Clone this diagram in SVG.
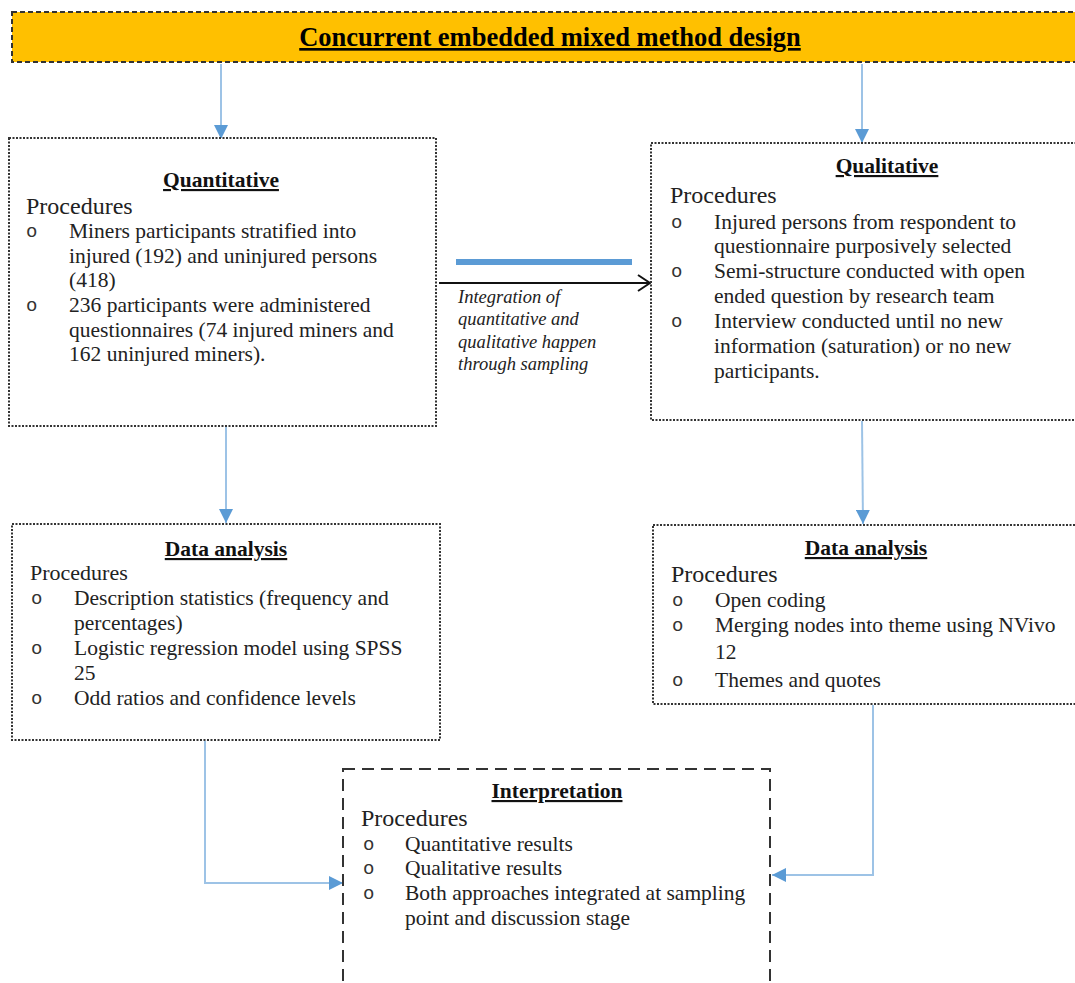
<svg xmlns="http://www.w3.org/2000/svg" width="1075" height="983" viewBox="0 0 1075 983">
<defs>
<style>
.box{fill:#fff;stroke:#333;stroke-width:2;stroke-dasharray:2 1.5}
.hd{font-family:"Liberation Serif","Times New Roman",serif;font-weight:bold;font-size:21.5px;fill:#111;text-anchor:middle;text-decoration:underline}
.pr{font-family:"Liberation Serif","Times New Roman",serif;font-size:24px;fill:#222}
.tx{font-family:"Liberation Serif","Times New Roman",serif;font-size:21.5px;fill:#222}
.bl{font-family:"Liberation Mono","Courier New",monospace;font-size:19px;fill:#333}
.it{font-family:"Liberation Serif","Times New Roman",serif;font-style:italic;font-size:18.5px;fill:#222}
.cn{fill:none;stroke:#9DC3E6;stroke-width:2}
</style>
<marker id="ab" markerUnits="userSpaceOnUse" markerWidth="14" markerHeight="14" viewBox="0 0 14 14" refX="14" refY="7" orient="auto">
<path d="M0,0 L14,7 L0,14 Z" fill="#5B9BD5"/>
</marker>
<marker id="ak" markerUnits="userSpaceOnUse" markerWidth="14" markerHeight="18" viewBox="0 0 14 18" refX="13" refY="9" orient="auto">
<path d="M1,1 L13,9 L1,17" fill="none" stroke="#111" stroke-width="2"/>
</marker>
</defs>
<rect width="1075" height="983" fill="#fff"/>

<g id="title">
<rect x="12" y="12" width="1072" height="50" fill="#FFC000" stroke="#333" stroke-width="2" stroke-dasharray="5 3"/>
<text x="550" y="46" font-family="Liberation Serif, Times New Roman, serif" font-weight="bold" font-size="26.5" fill="#000" text-anchor="middle" text-decoration="underline">Concurrent embedded mixed method design</text>
</g>

<g id="connectors">
<line class="cn" x1="221" y1="64" x2="221" y2="139" marker-end="url(#ab)"/>
<line class="cn" x1="862" y1="64" x2="862" y2="143" marker-end="url(#ab)"/>
<line class="cn" x1="226" y1="427" x2="226" y2="523" marker-end="url(#ab)"/>
<line class="cn" x1="862" y1="421" x2="863" y2="524" marker-end="url(#ab)"/>
<path class="cn" d="M205,741 V883 H343" marker-end="url(#ab)"/>
<path class="cn" d="M873,705 V875 H772" marker-end="url(#ab)"/>
<line x1="456" y1="262" x2="632" y2="262" stroke="#5B9BD5" stroke-width="6"/>
<line x1="439" y1="283" x2="650" y2="283" stroke="#111" stroke-width="2" marker-end="url(#ak)"/>
<text class="it" x="458" y="303">Integration of</text>
<text class="it" x="458" y="325">quantitative and</text>
<text class="it" x="458" y="348">qualitative happen</text>
<text class="it" x="458" y="370">through sampling</text>
</g>

<g id="quantitative">
<rect class="box" x="9" y="138" width="427" height="288"/>
<text class="hd" x="221" y="187">Quantitative</text>
<text class="pr" x="26" y="214">Procedures</text>
<text class="bl" x="26" y="237">o</text>
<text class="tx" x="69" y="238">Miners participants stratified into</text>
<text class="tx" x="69" y="263">injured (192) and uninjured persons</text>
<text class="tx" x="69" y="287">(418)</text>
<text class="bl" x="26" y="311">o</text>
<text class="tx" x="69" y="312">236 participants were administered</text>
<text class="tx" x="69" y="337">questionnaires (74 injured miners and</text>
<text class="tx" x="69" y="361">162 uninjured miners).</text>
</g>

<g id="qualitative">
<rect class="box" x="651" y="143" width="430" height="277"/>
<text class="hd" x="887" y="173">Qualitative</text>
<text class="pr" x="670" y="203">Procedures</text>
<text class="bl" x="671" y="228">o</text>
<text class="tx" x="714" y="229">Injured persons from respondent to</text>
<text class="tx" x="714" y="253">questionnaire purposively selected</text>
<text class="bl" x="671" y="277">o</text>
<text class="tx" x="714" y="278">Semi-structure conducted with open</text>
<text class="tx" x="714" y="303">ended question by research team</text>
<text class="bl" x="671" y="327">o</text>
<text class="tx" x="714" y="328">Interview conducted until no new</text>
<text class="tx" x="714" y="353">information (saturation) or no new</text>
<text class="tx" x="714" y="378">participants.</text>
</g>

<g id="quant-analysis">
<rect class="box" x="12" y="524" width="428" height="216"/>
<text class="hd" x="226" y="556">Data analysis</text>
<text class="pr" x="30" y="580" style="font-size:22px">Procedures</text>
<text class="bl" x="31" y="604">o</text>
<text class="tx" x="74" y="605">Description statistics (frequency and</text>
<text class="tx" x="74" y="630">percentages)</text>
<text class="bl" x="31" y="654">o</text>
<text class="tx" x="74" y="655">Logistic regression model using SPSS</text>
<text class="tx" x="74" y="680">25</text>
<text class="bl" x="31" y="704">o</text>
<text class="tx" x="74" y="705">Odd ratios and confidence levels</text>
</g>

<g id="qual-analysis">
<rect class="box" x="653" y="525" width="428" height="179"/>
<text class="hd" x="866" y="555">Data analysis</text>
<text class="pr" x="671" y="582">Procedures</text>
<text class="bl" x="672" y="606">o</text>
<text class="tx" x="715" y="607">Open coding</text>
<text class="bl" x="672" y="631">o</text>
<text class="tx" x="715" y="632">Merging nodes into theme using NVivo</text>
<text class="tx" x="715" y="659">12</text>
<text class="bl" x="672" y="686">o</text>
<text class="tx" x="715" y="687">Themes and quotes</text>
</g>

<g id="interpretation">
<rect x="343" y="769" width="427" height="230" fill="#fff" stroke="#333" stroke-width="2" stroke-dasharray="12 7"/>
<text class="hd" x="557" y="798">Interpretation</text>
<text class="pr" x="361" y="826">Procedures</text>
<text class="bl" x="363" y="850">o</text>
<text class="tx" x="405" y="851">Quantitative results</text>
<text class="bl" x="363" y="874">o</text>
<text class="tx" x="405" y="875">Qualitative results</text>
<text class="bl" x="363" y="899">o</text>
<text class="tx" x="405" y="900">Both approaches integrated at sampling</text>
<text class="tx" x="405" y="925">point and discussion stage</text>
</g>
</svg>
